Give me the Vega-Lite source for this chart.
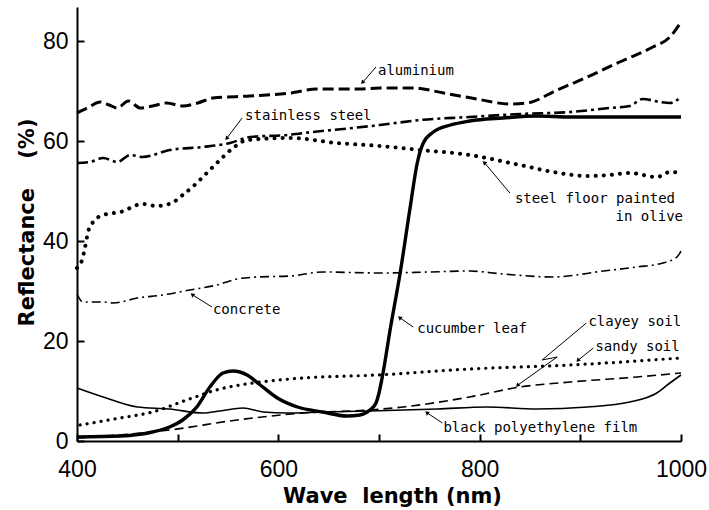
{
  "$schema": "https://vega.github.io/schema/vega-lite/v6.json",
  "width": 604,
  "height": 434,
  "autosize": {"type": "none"},
  "padding": {"left": 77, "top": 7, "right": 28, "bottom": 69},
  "background": "white",
  "config": {"view": {"stroke": null}},
  "datasets": {
    "curves": [
      {"s": "aluminium", "wl": 400, "r": 65.6}, {"s": "aluminium", "wl": 412, "r": 66.8}, {"s": "aluminium", "wl": 423, "r": 67.8}, {"s": "aluminium", "wl": 432, "r": 67.2}, {"s": "aluminium", "wl": 440, "r": 66.6}, {"s": "aluminium", "wl": 451, "r": 68.0}, {"s": "aluminium", "wl": 463, "r": 66.6}, {"s": "aluminium", "wl": 475, "r": 67.0}, {"s": "aluminium", "wl": 489, "r": 67.6}, {"s": "aluminium", "wl": 505, "r": 67.0}, {"s": "aluminium", "wl": 520, "r": 67.6}, {"s": "aluminium", "wl": 535, "r": 68.6}, {"s": "aluminium", "wl": 572, "r": 69.0}, {"s": "aluminium", "wl": 612, "r": 69.6}, {"s": "aluminium", "wl": 638, "r": 70.4}, {"s": "aluminium", "wl": 681, "r": 70.4}, {"s": "aluminium", "wl": 701, "r": 70.6}, {"s": "aluminium", "wl": 734, "r": 70.6}, {"s": "aluminium", "wl": 764, "r": 69.6}, {"s": "aluminium", "wl": 797, "r": 68.4}, {"s": "aluminium", "wl": 830, "r": 67.4}, {"s": "aluminium", "wl": 847, "r": 67.6}, {"s": "aluminium", "wl": 877, "r": 70.2}, {"s": "aluminium", "wl": 907, "r": 72.8}, {"s": "aluminium", "wl": 939, "r": 75.8}, {"s": "aluminium", "wl": 972, "r": 78.8}, {"s": "aluminium", "wl": 989, "r": 80.8}, {"s": "aluminium", "wl": 1000, "r": 83.8},
      {"s": "stainless", "wl": 400, "r": 55.6}, {"s": "stainless", "wl": 413, "r": 55.8}, {"s": "stainless", "wl": 426, "r": 56.6}, {"s": "stainless", "wl": 440, "r": 55.8}, {"s": "stainless", "wl": 453, "r": 57.2}, {"s": "stainless", "wl": 465, "r": 56.8}, {"s": "stainless", "wl": 492, "r": 58.2}, {"s": "stainless", "wl": 525, "r": 58.8}, {"s": "stainless", "wl": 552, "r": 59.6}, {"s": "stainless", "wl": 572, "r": 60.8}, {"s": "stainless", "wl": 609, "r": 61.2}, {"s": "stainless", "wl": 634, "r": 61.8}, {"s": "stainless", "wl": 674, "r": 62.6}, {"s": "stainless", "wl": 701, "r": 63.2}, {"s": "stainless", "wl": 741, "r": 64.2}, {"s": "stainless", "wl": 790, "r": 64.8}, {"s": "stainless", "wl": 840, "r": 65.4}, {"s": "stainless", "wl": 890, "r": 65.8}, {"s": "stainless", "wl": 929, "r": 66.6}, {"s": "stainless", "wl": 949, "r": 67.0}, {"s": "stainless", "wl": 962, "r": 68.4}, {"s": "stainless", "wl": 979, "r": 67.8}, {"s": "stainless", "wl": 989, "r": 67.6}, {"s": "stainless", "wl": 1000, "r": 68.8},
      {"s": "olive", "wl": 400, "r": 34.6}, {"s": "olive", "wl": 405, "r": 36.2}, {"s": "olive", "wl": 408, "r": 38.8}, {"s": "olive", "wl": 411, "r": 41.8}, {"s": "olive", "wl": 416, "r": 43.8}, {"s": "olive", "wl": 426, "r": 45.2}, {"s": "olive", "wl": 443, "r": 45.8}, {"s": "olive", "wl": 465, "r": 47.4}, {"s": "olive", "wl": 479, "r": 47.0}, {"s": "olive", "wl": 494, "r": 47.6}, {"s": "olive", "wl": 505, "r": 49.2}, {"s": "olive", "wl": 519, "r": 51.6}, {"s": "olive", "wl": 525, "r": 52.8}, {"s": "olive", "wl": 542, "r": 56.2}, {"s": "olive", "wl": 555, "r": 58.6}, {"s": "olive", "wl": 569, "r": 60.2}, {"s": "olive", "wl": 612, "r": 60.6}, {"s": "olive", "wl": 658, "r": 59.6}, {"s": "olive", "wl": 701, "r": 59.0}, {"s": "olive", "wl": 741, "r": 58.2}, {"s": "olive", "wl": 790, "r": 57.2}, {"s": "olive", "wl": 840, "r": 55.2}, {"s": "olive", "wl": 873, "r": 53.8}, {"s": "olive", "wl": 907, "r": 53.0}, {"s": "olive", "wl": 929, "r": 53.2}, {"s": "olive", "wl": 949, "r": 53.6}, {"s": "olive", "wl": 976, "r": 52.8}, {"s": "olive", "wl": 989, "r": 53.8}, {"s": "olive", "wl": 1000, "r": 53.6},
      {"s": "concrete", "wl": 400, "r": 29.4}, {"s": "concrete", "wl": 406, "r": 27.8}, {"s": "concrete", "wl": 426, "r": 27.8}, {"s": "concrete", "wl": 436, "r": 27.6}, {"s": "concrete", "wl": 460, "r": 28.6}, {"s": "concrete", "wl": 485, "r": 29.2}, {"s": "concrete", "wl": 512, "r": 30.2}, {"s": "concrete", "wl": 539, "r": 31.2}, {"s": "concrete", "wl": 559, "r": 32.4}, {"s": "concrete", "wl": 579, "r": 32.8}, {"s": "concrete", "wl": 612, "r": 33.0}, {"s": "concrete", "wl": 644, "r": 33.8}, {"s": "concrete", "wl": 701, "r": 33.6}, {"s": "concrete", "wl": 750, "r": 33.8}, {"s": "concrete", "wl": 790, "r": 34.0}, {"s": "concrete", "wl": 823, "r": 33.4}, {"s": "concrete", "wl": 873, "r": 32.8}, {"s": "concrete", "wl": 923, "r": 34.0}, {"s": "concrete", "wl": 956, "r": 34.8}, {"s": "concrete", "wl": 982, "r": 35.6}, {"s": "concrete", "wl": 996, "r": 36.8}, {"s": "concrete", "wl": 1000, "r": 38.0},
      {"s": "cucumber", "wl": 400, "r": 0.8}, {"s": "cucumber", "wl": 443, "r": 1.0}, {"s": "cucumber", "wl": 475, "r": 1.8}, {"s": "cucumber", "wl": 492, "r": 2.8}, {"s": "cucumber", "wl": 505, "r": 4.2}, {"s": "cucumber", "wl": 519, "r": 6.8}, {"s": "cucumber", "wl": 532, "r": 10.8}, {"s": "cucumber", "wl": 545, "r": 13.6}, {"s": "cucumber", "wl": 555, "r": 14.0}, {"s": "cucumber", "wl": 569, "r": 13.2}, {"s": "cucumber", "wl": 582, "r": 11.2}, {"s": "cucumber", "wl": 599, "r": 8.6}, {"s": "cucumber", "wl": 619, "r": 6.8}, {"s": "cucumber", "wl": 644, "r": 5.8}, {"s": "cucumber", "wl": 668, "r": 5.0}, {"s": "cucumber", "wl": 681, "r": 5.2}, {"s": "cucumber", "wl": 691, "r": 6.2}, {"s": "cucumber", "wl": 697, "r": 7.6}, {"s": "cucumber", "wl": 700, "r": 9.6}, {"s": "cucumber", "wl": 704, "r": 13.6}, {"s": "cucumber", "wl": 711, "r": 22.2}, {"s": "cucumber", "wl": 721, "r": 33.6}, {"s": "cucumber", "wl": 731, "r": 46.8}, {"s": "cucumber", "wl": 738, "r": 55.6}, {"s": "cucumber", "wl": 744, "r": 59.6}, {"s": "cucumber", "wl": 754, "r": 61.8}, {"s": "cucumber", "wl": 771, "r": 63.2}, {"s": "cucumber", "wl": 790, "r": 64.0}, {"s": "cucumber", "wl": 823, "r": 64.6}, {"s": "cucumber", "wl": 857, "r": 65.0}, {"s": "cucumber", "wl": 890, "r": 64.8}, {"s": "cucumber", "wl": 956, "r": 64.8}, {"s": "cucumber", "wl": 1000, "r": 64.8},
      {"s": "black", "wl": 400, "r": 10.6}, {"s": "black", "wl": 426, "r": 8.8}, {"s": "black", "wl": 460, "r": 6.8}, {"s": "black", "wl": 492, "r": 6.4}, {"s": "black", "wl": 525, "r": 5.6}, {"s": "black", "wl": 542, "r": 6.0}, {"s": "black", "wl": 565, "r": 6.6}, {"s": "black", "wl": 585, "r": 5.8}, {"s": "black", "wl": 609, "r": 5.6}, {"s": "black", "wl": 644, "r": 5.8}, {"s": "black", "wl": 691, "r": 6.0}, {"s": "black", "wl": 758, "r": 6.4}, {"s": "black", "wl": 807, "r": 6.8}, {"s": "black", "wl": 857, "r": 6.4}, {"s": "black", "wl": 907, "r": 6.8}, {"s": "black", "wl": 949, "r": 7.8}, {"s": "black", "wl": 976, "r": 9.6}, {"s": "black", "wl": 989, "r": 11.6}, {"s": "black", "wl": 1000, "r": 13.2},
      {"s": "sandy", "wl": 403, "r": 3.2}, {"s": "sandy", "wl": 443, "r": 4.6}, {"s": "sandy", "wl": 475, "r": 5.8}, {"s": "sandy", "wl": 509, "r": 8.2}, {"s": "sandy", "wl": 542, "r": 10.4}, {"s": "sandy", "wl": 575, "r": 11.6}, {"s": "sandy", "wl": 625, "r": 12.6}, {"s": "sandy", "wl": 698, "r": 13.2}, {"s": "sandy", "wl": 790, "r": 14.4}, {"s": "sandy", "wl": 890, "r": 15.2}, {"s": "sandy", "wl": 1000, "r": 16.6},
      {"s": "clayey", "wl": 400, "r": 0.6}, {"s": "clayey", "wl": 492, "r": 2.2}, {"s": "clayey", "wl": 559, "r": 4.2}, {"s": "clayey", "wl": 625, "r": 5.6}, {"s": "clayey", "wl": 691, "r": 6.2}, {"s": "clayey", "wl": 724, "r": 6.8}, {"s": "clayey", "wl": 790, "r": 8.8}, {"s": "clayey", "wl": 840, "r": 10.8}, {"s": "clayey", "wl": 890, "r": 11.8}, {"s": "clayey", "wl": 956, "r": 12.8}, {"s": "clayey", "wl": 1000, "r": 13.6}
    ],
    "labels": [
      {"t": "aluminium", "wl": 699, "r": 74.0},
      {"t": "stainless steel", "wl": 567, "r": 65.0},
      {"t": "steel floor painted", "wl": 835, "r": 48.4},
      {"t": "in olive", "wl": 935, "r": 44.8},
      {"t": "concrete", "wl": 535, "r": 26.2},
      {"t": "cucumber leaf", "wl": 738, "r": 22.4},
      {"t": "clayey soil", "wl": 908, "r": 23.8},
      {"t": "sandy soil", "wl": 915, "r": 18.8},
      {"t": "black polyethylene film", "wl": 764, "r": 2.6}
    ],
    "arrows": [
      {"t": "aluminium", "wl": 697, "r": 74.8, "wl2": 684, "r2": 71.8, "tip": true},
      {"t": "stainless steel", "wl": 564, "r": 64.6, "wl2": 549, "r2": 60.6, "tip": true},
      {"t": "steel floor painted", "wl": 830, "r": 49.6, "wl2": 805, "r2": 55.6, "tip": true},
      {"t": "concrete", "wl": 534, "r": 26.8, "wl2": 515, "r2": 29.2, "tip": true},
      {"t": "cucumber leaf", "wl": 734, "r": 22.8, "wl2": 721, "r2": 24.6, "tip": true},
      {"t": "clayey soil", "wl": 906, "r": 23.6, "wl2": 862, "r2": 16.2, "tip": false},
      {"t": "clayey soil", "wl": 862, "r": 16.2, "wl2": 877, "r2": 16.8, "tip": false},
      {"t": "clayey soil", "wl": 877, "r": 16.8, "wl2": 838, "r2": 11.2, "tip": true},
      {"t": "sandy soil", "wl": 913, "r": 18.6, "wl2": 898, "r2": 16.2, "tip": true},
      {"t": "black polyethylene film", "wl": 763, "r": 3.6, "wl2": 748, "r2": 5.6, "tip": true}
    ]
  },
  "encoding": {
    "x": {
      "field": "wl", "type": "quantitative",
      "scale": {"domain": [400, 1000], "nice": false, "zero": false},
      "axis": {
        "values": [400, 500, 600, 700, 800, 900, 1000],
        "format": "d",
        "labelExpr": "datum.value % 200 == 0 ? datum.label : ''",
        "grid": false, "tickSize": -7, "tickWidth": 2, "tickColor": "black",
        "domainColor": "black", "domainWidth": 2,
        "labelFont": "Liberation Sans", "labelFontSize": 23, "labelColor": "black", "labelPadding": 24,
        "labelFlush": false,
        "title": "Wave\u00a0\u00a0length (nm)", "titleFont": "DejaVu Sans", "titleFontWeight": "bold", "titleFontSize": 21, "titleColor": "black",
        "titleX": 315, "titleY": 61, "titleBaseline": "alphabetic", "titleAlign": "center"
      }
    },
    "y": {
      "field": "r", "type": "quantitative",
      "scale": {"domain": [0, 86.8], "nice": false, "zero": true},
      "axis": {
        "values": [0, 20, 40, 60, 80],
        "format": "d",
        "grid": false, "tickSize": -7, "tickWidth": 2, "tickColor": "black",
        "domainColor": "black", "domainWidth": 2,
        "labelFont": "Liberation Sans", "labelFontSize": 23, "labelColor": "black", "labelPadding": 16,
        "labelFlush": false,
        "title": "Reflectance\u00a0\u00a0\u00a0\u00a0(%)", "titleFont": "DejaVu Sans", "titleFontWeight": "bold", "titleFontSize": 21, "titleColor": "black",
        "titleX": -44, "titleY": 215, "titleBaseline": "alphabetic", "titleAlign": "center", "titleAngle": 270
      }
    }
  },
  "layer": [
    {"data": {"name": "curves"}, "transform": [{"filter": "datum.s == 'aluminium'"}],
     "mark": {"type": "line", "color": "black", "strokeWidth": 3, "strokeDash": [11, 5], "interpolate": "monotone"}},
    {"data": {"name": "curves"}, "transform": [{"filter": "datum.s == 'stainless'"}],
     "mark": {"type": "line", "color": "black", "strokeWidth": 2.6, "strokeDash": [11, 4, 3, 4], "interpolate": "monotone"}},
    {"data": {"name": "curves"}, "transform": [{"filter": "datum.s == 'olive'"}],
     "mark": {"type": "line", "color": "black", "strokeWidth": 4, "strokeDash": [0.1, 8], "strokeCap": "round", "interpolate": "monotone"}},
    {"data": {"name": "curves"}, "transform": [{"filter": "datum.s == 'concrete'"}],
     "mark": {"type": "line", "color": "black", "strokeWidth": 1.6, "strokeDash": [9, 4, 2, 4], "interpolate": "monotone"}},
    {"data": {"name": "curves"}, "transform": [{"filter": "datum.s == 'cucumber'"}],
     "mark": {"type": "line", "color": "black", "strokeWidth": 3.4, "interpolate": "monotone"}},
    {"data": {"name": "curves"}, "transform": [{"filter": "datum.s == 'black'"}],
     "mark": {"type": "line", "color": "black", "strokeWidth": 1.6, "interpolate": "monotone"}},
    {"data": {"name": "curves"}, "transform": [{"filter": "datum.s == 'sandy'"}],
     "mark": {"type": "line", "color": "black", "strokeWidth": 3.2, "strokeDash": [0.1, 7], "strokeCap": "round", "interpolate": "monotone"}},
    {"data": {"name": "curves"}, "transform": [{"filter": "datum.s == 'clayey'"}],
     "mark": {"type": "line", "color": "black", "strokeWidth": 1.6, "strokeDash": [9, 5], "interpolate": "monotone"}},
    {"data": {"name": "arrows"},
     "mark": {"type": "rule", "color": "black", "strokeWidth": 1},
     "encoding": {"x2": {"field": "wl2"}, "y2": {"field": "r2"}}},
    {"data": {"name": "arrows"},
     "transform": [{"filter": "datum.tip && indexof(['aluminium','stainless steel','clayey soil','sandy soil'], datum.t) >= 0"}],
     "mark": {"type": "point", "shape": "triangle", "filled": true, "color": "black", "size": 22, "angle": 222, "opacity": 1},
     "encoding": {"x": {"field": "wl2", "type": "quantitative"}, "y": {"field": "r2", "type": "quantitative"}}},
    {"data": {"name": "arrows"},
     "transform": [{"filter": "datum.tip && indexof(['aluminium','stainless steel','clayey soil','sandy soil'], datum.t) < 0"}],
     "mark": {"type": "point", "shape": "triangle", "filled": true, "color": "black", "size": 22, "angle": 310, "opacity": 1},
     "encoding": {"x": {"field": "wl2", "type": "quantitative"}, "y": {"field": "r2", "type": "quantitative"}}},
    {"data": {"name": "labels"},
     "mark": {"type": "text", "align": "left", "baseline": "middle", "font": "DejaVu Sans Mono", "fontSize": 14, "color": "black"},
     "encoding": {"text": {"field": "t"}}}
  ]
}
